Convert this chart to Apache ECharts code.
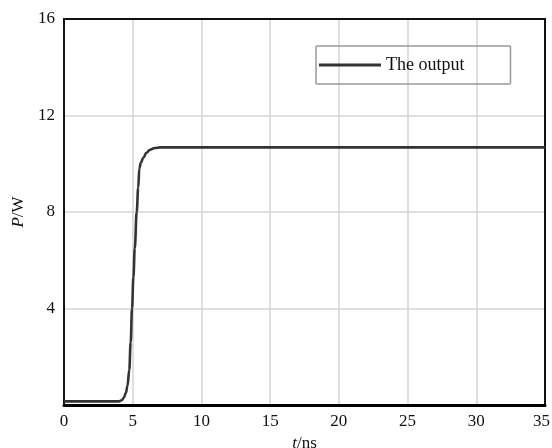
<!DOCTYPE html>
<html>
<head>
<meta charset="utf-8">
<script src="https://cdn.jsdelivr.net/npm/echarts@6/dist/echarts.min.js"></script>
<style>html,body{margin:0;padding:0;background:#fff}#c{width:552px;height:448px}</style>
</head>
<body>
<div id="c"></div>
<script>
const seriesName = 'The output';
const timeNs = [0, 2, 4.0, 4.2, 4.35, 4.5, 4.62, 4.75, 4.85, 4.95, 5.05, 5.15, 5.29, 5.4, 5.48, 5.6, 5.77, 6.0, 6.26, 6.6, 7.0, 10, 20, 35];
const powerW = [0.15, 0.15, 0.15, 0.2, 0.3, 0.5, 0.8, 1.45, 2.6, 4.0, 5.3, 6.5, 8.0, 9.0, 9.8, 10.05, 10.25, 10.45, 10.58, 10.65, 10.68, 10.68, 10.68, 10.68];
const xTicks = [0, 5, 10, 15, 20, 25, 30, 35];
const yTicks = [4, 8, 12, 16];

const chart = echarts.init(document.getElementById('c'));
const font = "'Liberation Serif', 'Times New Roman', serif";
const frameAxis = { show: true, axisLine: { show: true, onZero: false, lineStyle: { color: '#111', width: 2 } }, axisTick: { show: false }, axisLabel: { show: false }, splitLine: { show: false } };
const lastX = xTicks[xTicks.length - 1];
chart.setOption({
  animation: false,
  backgroundColor: '#fff',
  grid: { left: 64, right: 7, top: 19, bottom: 43, outerBoundsMode: 'none', containLabel: false },
  legend: {
    show: true,
    left: 316, top: 46,
    data: [seriesName],
    icon: 'rect',
    itemWidth: 62, itemHeight: 3, itemGap: 0,
    padding: [10, 46, 10, 3],
    borderColor: '#999', borderWidth: 1.5, borderRadius: 1,
    itemStyle: { color: '#333' },
    textStyle: { fontFamily: font, fontSize: 18, color: '#111', padding: [0, 0, 0, 0] }
  },
  xAxis: [{
    type: 'value', min: 0, max: 35, interval: 5,
    name: '{i|t}/ns', nameLocation: 'middle', nameGap: 26,
    nameTextStyle: { fontFamily: font, fontSize: 17, color: '#111', rich: { i: { fontFamily: font, fontSize: 17, fontStyle: 'italic', color: '#111' } } },
    axisLine: { show: true, onZero: false, lineStyle: { color: '#000', width: 3 } },
    axisTick: { show: false },
    axisLabel: {
      fontFamily: font, fontSize: 17, color: '#111', margin: 8,
      formatter: v => !xTicks.includes(v) ? '' : (v === lastX ? '{r|' + v + '}' : String(v)),
      rich: { r: { fontFamily: font, fontSize: 17, color: '#111', padding: [0, 7, 0, 0] } }
    },
    splitLine: { show: true, lineStyle: { color: '#d4d4d4', width: 1.5 } }
  }, Object.assign({ type: 'value', min: 0, max: 35, interval: 5, position: 'top' }, frameAxis)],
  yAxis: [{
    type: 'value', min: 0, max: 16, interval: 4,
    name: '{i|P}/W', nameLocation: 'middle', nameGap: 36, nameRotate: 90,
    nameTextStyle: { fontFamily: font, fontSize: 17, color: '#111', rich: { i: { fontFamily: font, fontSize: 17, fontStyle: 'italic', color: '#111' } } },
    axisLine: { show: true, onZero: false, lineStyle: { color: '#111', width: 2 } },
    axisTick: { show: false },
    axisLabel: { fontFamily: font, fontSize: 17, color: '#111', margin: 9, formatter: v => yTicks.includes(v) ? String(v) : '' },
    splitLine: { show: true, lineStyle: { color: '#d4d4d4', width: 1.5 } }
  }, Object.assign({ type: 'value', min: 0, max: 16, interval: 4, position: 'right' }, frameAxis)],
  series: [{
    name: seriesName,
    type: 'line',
    data: timeNs.map((t, i) => [t, powerW[i]]),
    symbol: 'none',
    smooth: 0.4,
    smoothMonotone: 'x',
    lineStyle: { color: '#333', width: 2.6 },
    itemStyle: { color: '#333' }
  }]
});
</script>
</body>
</html>
